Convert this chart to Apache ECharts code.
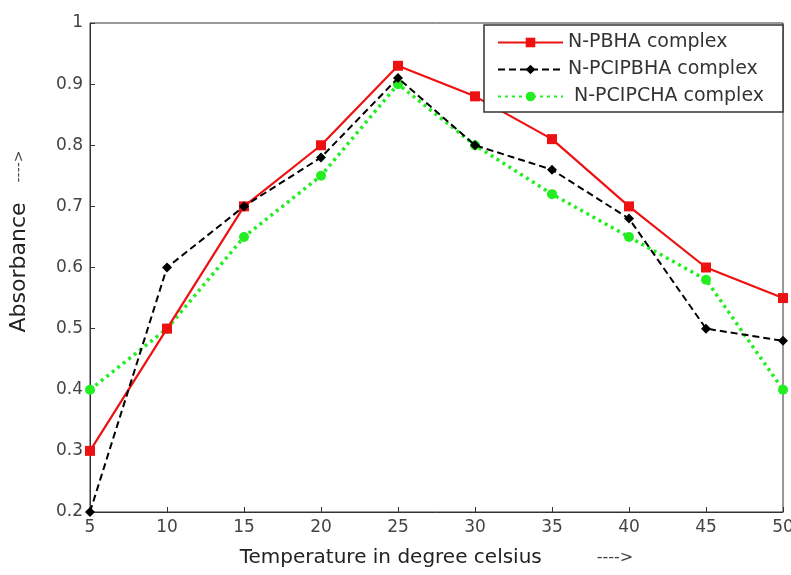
<!DOCTYPE html>
<html><head><meta charset="utf-8">
<script src="https://cdn.jsdelivr.net/npm/echarts@6/dist/echarts.min.js"></script>
<style>html,body{margin:0;padding:0;background:#fff}#c{width:791px;height:575px}</style>
</head><body><div id="c"></div>
<script>
const temps = [5, 10, 15, 20, 25, 30, 35, 40, 45, 50];
const pbha = [0.30, 0.50, 0.70, 0.80, 0.93, 0.88, 0.81, 0.70, 0.60, 0.55];
const pcipbha = [0.20, 0.60, 0.70, 0.78, 0.91, 0.80, 0.76, 0.68, 0.50, 0.48];
const pcipcha = [0.40, 0.50, 0.65, 0.75, 0.90, 0.80, 0.72, 0.65, 0.58, 0.40];
const seriesNames = ['N-PBHA complex', 'N-PCIPBHA complex', ' N-PCIPCHA complex'];

const pairs = arr => temps.map((t, i) => [t, arr[i]]);
const chart = echarts.init(document.getElementById('c'), null, {renderer: 'canvas'});
const font = 'DejaVu Sans, sans-serif';
chart.setOption({
  animation: false,
  backgroundColor: '#fff',
  grid: {left: 90, right: 8, top: 23, bottom: 63, show: true, borderColor: '#333', borderWidth: 1,
    containLabel: false, outerBoundsMode: 'none'},
  legend: {
    orient: 'vertical', left: 484, top: 25,
    backgroundColor: '#fff', borderColor: '#333', borderWidth: 1.5,
    padding: [8, 19, 6, 13], itemGap: 8, itemWidth: 65, itemHeight: 12,
    textStyle: {fontFamily: font, fontSize: 19, lineHeight: 19, color: '#333'},
    data: seriesNames
  },
  xAxis: {
    type: 'value', min: 5, max: 50, interval: 5,
    axisLine: {lineStyle: {color: '#333'}},
    axisTick: {inside: true, length: 5, lineStyle: {color: '#333'}},
    axisLabel: {fontFamily: font, fontSize: 17, color: '#444', margin: 7},
    splitLine: {show: false},
    name: '{t|Temperature in degree celsius}{g|}{a|---->}', nameLocation: 'middle', nameGap: 36,
    nameTextStyle: {fontFamily: font, fontSize: 20, color: '#222',
      rich: {t: {fontFamily: font, fontSize: 20, color: '#222'}, g: {width: 55}, a: {fontFamily: font, fontSize: 16, color: '#444'}}}
  },
  yAxis: {
    type: 'value', min: 0.2, max: 1, interval: 0.1,
    axisLine: {lineStyle: {color: '#333'}},
    axisTick: {inside: true, length: 5, lineStyle: {color: '#333'}},
    axisLabel: {fontFamily: font, fontSize: 17, color: '#444', margin: 7,
      formatter: v => (Math.round(v * 10) / 10).toString()},
    splitLine: {show: false},
    name: '{p|}{t|Absorbance}{g|}{a|---->}', nameLocation: 'middle', nameGap: 60, nameRotate: 90,
    nameTextStyle: {fontFamily: font, fontSize: 22, color: '#222',
      rich: {p: {width: 52}, t: {fontFamily: font, fontSize: 22, color: '#222'}, g: {width: 20}, a: {fontFamily: font, fontSize: 14, color: '#444'}}}
  },
  series: [
    {name: seriesNames[0], type: 'line', data: pairs(pbha), symbol: 'rect', symbolSize: 10,
     lineStyle: {color: '#ee1111', width: 2.2}, itemStyle: {color: '#ee1111'}, z: 3},
    {name: seriesNames[1], type: 'line', data: pairs(pcipbha), symbol: 'diamond', symbolSize: 10,
     lineStyle: {color: '#000', width: 2, type: [7, 4]}, itemStyle: {color: '#000'}, z: 4},
    {name: seriesNames[2], type: 'line', data: pairs(pcipcha), symbol: 'circle', symbolSize: 10,
     lineStyle: {color: '#22ee22', width: 3.5, type: [3, 4]}, itemStyle: {color: '#22ee22'}, z: 2}
  ]
});
</script></body></html>
